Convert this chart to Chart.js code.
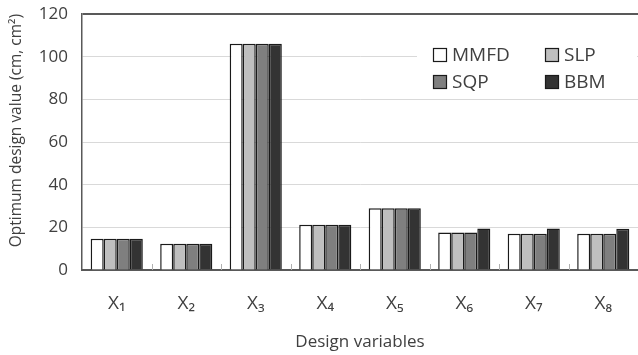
<!DOCTYPE html>
<html>
<head>
<meta charset="utf-8">
<script src="https://cdn.jsdelivr.net/npm/chart.js@4"></script>
<style>
  html, body { margin: 0; padding: 0; background: #ffffff; }
  #wrap { width: 638px; height: 355px; }
</style>
</head>
<body>
<div id="wrap"><canvas id="c" width="638" height="355"></canvas></div>
<script>
const categories = ['X₁', 'X₂', 'X₃', 'X₄', 'X₅', 'X₆', 'X₇', 'X₈'];
const seriesNames = ['MMFD', 'SLP', 'SQP', 'BBM'];
const mmfd = [14.7, 12.3, 106, 21.2, 29.0, 17.6, 17.0, 17.0];
const slp  = [14.7, 12.3, 106, 21.2, 29.0, 17.6, 17.0, 17.0];
const sqp  = [14.7, 12.3, 106, 21.2, 29.0, 17.6, 17.0, 17.0];
const bbm  = [14.7, 12.3, 106, 21.2, 29.0, 19.4, 19.4, 19.3];
const yTicks = [0, 20, 40, 60, 80, 100, 120];
const yTitle = 'Optimum design value (cm, cm²)';
const xTitle = 'Design variables';

const fills = ['#ffffff', '#bfbfbf', '#7f7f7f', '#333333'];
const FONT = "'Open Sans', 'Noto Sans', sans-serif";
const TEXT = '#404040';

const gridTickPlugin = {
  id: 'catTicks',
  afterDraw(chart) {
    const x = chart.scales.x, ctx = chart.ctx, a = chart.chartArea;
    ctx.save();
    ctx.strokeStyle = '#b0b0b0';
    ctx.lineWidth = 1;
    for (let i = 0; i < categories.length - 1; i++) {
      const px = Math.round((x.getPixelForValue(i) + x.getPixelForValue(i + 1)) / 2) + 0.5;
      ctx.beginPath();
      ctx.moveTo(px, a.bottom - 6);
      ctx.lineTo(px, a.bottom);
      ctx.stroke();
    }
    ctx.restore();
  }
};

const legendPlugin = {
  id: 'boxLegend',
  afterDatasetsDraw(chart) {
    const ctx = chart.ctx;
    ctx.save();
    ctx.fillStyle = '#ffffff';
    ctx.fillRect(417, 40, 220, 54);
    ctx.font = "19px " + FONT;
    ctx.textBaseline = 'middle';
    ctx.textAlign = 'left';
    const cols = [433, 545], rows = [55, 82];
    chart.data.datasets.forEach((ds, i) => {
      const bx = cols[i % 2], by = rows[Math.floor(i / 2)];
      ctx.fillStyle = ds.backgroundColor;
      ctx.fillRect(bx, by - 7, 14, 14);
      ctx.strokeStyle = '#1a1a1a';
      ctx.lineWidth = 1.2;
      ctx.strokeRect(bx + 0.5, by - 6.5, 13, 13);
      ctx.fillStyle = TEXT;
      ctx.fillText(ds.label, bx + 19, by + 1);
    });
    ctx.restore();
  }
};

const datasets = [mmfd, slp, sqp, bbm].map((d, i) => ({
  label: seriesNames[i],
  data: d,
  backgroundColor: fills[i],
  borderColor: '#1a1a1a',
  borderWidth: 1.5,
  categoryPercentage: 0.75,
  barPercentage: 1.0
}));

new Chart(document.getElementById('c'), {
  type: 'bar',
  data: { labels: categories, datasets },
  options: {
    responsive: false,
    animation: false,
    layout: { padding: { top: 14, right: -4, left: 0, bottom: 0 } },
    plugins: { legend: { display: false }, tooltip: { enabled: false } },
    scales: {
      x: {
        grid: { display: false, drawTicks: false },
        border: { display: true, color: '#595959', width: 2 },
        ticks: { color: TEXT, font: { family: FONT, size: 19 }, padding: 22, maxRotation: 0 },
        title: { display: true, text: xTitle, color: TEXT, font: { family: FONT, size: 17 }, padding: { top: 0, bottom: 3 } },
        afterFit(s) { s.height = 85; s.paddingLeft = 0; s.paddingRight = 0; }
      },
      y: {
        min: 0, max: 120,
        afterBuildTicks(s) { s.ticks = yTicks.map(v => ({ value: v })); },
        grid: {
          drawTicks: false,
          color: ctx => (ctx.tick && ctx.tick.value === 120) ? '#595959' : '#d9d9d9',
          lineWidth: ctx => (ctx.tick && ctx.tick.value === 120) ? 2 : 1
        },
        border: { display: true, color: '#595959', width: 1.5 },
        ticks: { color: TEXT, font: { family: FONT, size: 17 }, padding: 14 },
        title: { display: true, text: yTitle, align: 'end', color: TEXT, font: { family: FONT, size: 15.5 }, padding: { top: 7, bottom: 0 } },
        afterFit(s) { s.width = 82; s.paddingTop = 0; s.paddingBottom = 0; }
      }
    }
  },
  plugins: [gridTickPlugin, legendPlugin]
});
</script>
</body>
</html>
